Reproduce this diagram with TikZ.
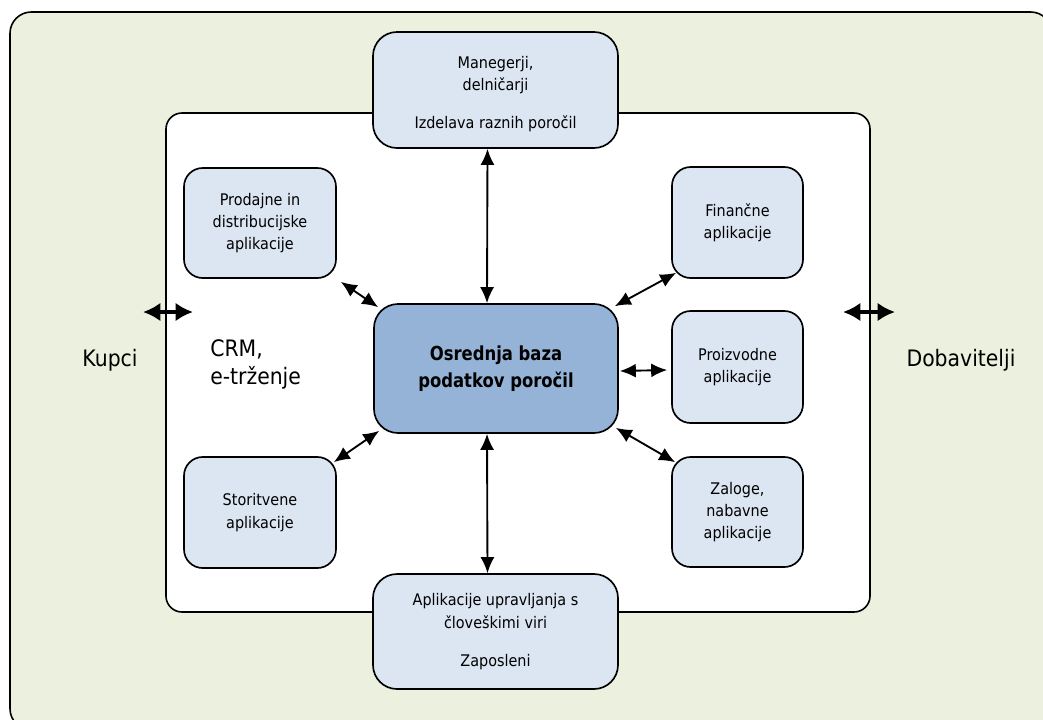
\documentclass[tikz,border=0pt]{standalone}
\usepackage{fontspec}
\setmainfont{DejaVu Sans}[FakeStretch=0.9]
\newfontfamily\cenfont{DejaVu Sans}[FakeStretch=0.85]
\usetikzlibrary{arrows.meta,calc}
\definecolor{outerbg}{HTML}{EBF1DE}
\definecolor{boxfill}{HTML}{DCE6F2}
\definecolor{cenfill}{HTML}{95B3D7}
\begin{document}
\begin{tikzpicture}[x=0.75pt,y=-0.75pt,
  appbox/.style={draw=black,line width=1.25pt,fill=boxfill,rounded corners=14pt,
    align=center,inner sep=0pt,font=\fontsize{12}{16.8}\selectfont},
  bigbox/.style={appbox,rounded corners=18pt},
  cenbox/.style={draw=black,line width=1.25pt,fill=cenfill,rounded corners=18pt,
    align=center,inner sep=0pt,font=\cenfont\fontsize{14.5}{20.5}\selectfont\bfseries},
  arr/.style={{Latex[length=12pt,width=10.5pt]}-{Latex[length=12pt,width=10.5pt]},line width=1.4pt},
  extarr/.style={{Latex[length=13pt,width=14pt]}-{Latex[length=13pt,width=14pt]},line width=2.6pt},
  big/.style={font=\fontsize{17}{21}\selectfont,inner sep=0pt}
]
\useasboundingbox (0,0) rectangle (1043,719);
\fill[white] (0,0) rectangle (1043,719);
\begin{scope}
\clip (0,0) rectangle (1043,719);
\draw[fill=outerbg,line width=1.2pt,rounded corners=16pt] (10,12) rectangle (1052,730);
\end{scope}
\draw[fill=white,line width=1.2pt,rounded corners=12pt] (166,113) rectangle (870,612);

\node[bigbox,minimum width=183.75pt,minimum height=87pt] (mgr) at (495.5,90)
  {\rule{0pt}{15pt}Manegerji,\\delničarji\\[11.7pt]Izdelava raznih poročil};
\node[appbox,minimum width=114pt,minimum height=82.5pt] (prod) at (260,223)
  {Prodajne in\\distribucijske\\aplikacije};
\node[appbox,minimum width=98.25pt,minimum height=83.25pt] (fin) at (737.5,222.5)
  {Finančne\\aplikacije};
\node[appbox,minimum width=98.25pt,minimum height=84pt] (proiz) at (737.5,367)
  {Proizvodne\\aplikacije};
\node[appbox,minimum width=98.25pt,minimum height=82.5pt] (zal) at (737.5,512)
  {Zaloge,\\nabavne\\aplikacije};
\node[appbox,minimum width=114pt,minimum height=83.25pt] (stor) at (260,512.5)
  {Storitvene\\aplikacije};
\node[bigbox,minimum width=183.75pt,minimum height=86.25pt] (hr) at (495.5,631.5)
  {Aplikacije upravljanja s\\človeškimi viri\\[11.7pt]Zaposleni};
\node[cenbox,minimum width=183pt,minimum height=96.75pt] (cen) at (496,368.5)
  {Osrednja baza\\podatkov poročil};

\node[big] (kupci) at (110,360) {Kupci};
\node[big] (dob) at (961,360) {Dobavitelji};
\node[big,anchor=west,align=left] (crm) at (210,364) {CRM,\\e-trženje};

\draw[arr] ([xshift=-6pt]mgr.south) -- ([xshift=-6.75pt]cen.north);
\draw[arr] ([xshift=-6pt]hr.north) -- ([xshift=-6.75pt]cen.south);
\draw[arr] ([shift={(4,3)}]prod.south east) -- ([shift={(5,4)}]cen.north west);
\draw[arr] ([shift={(-4,3)}]cen.north east) -- ([shift={(5,-6)}]fin.south west);
\draw[arr] ([shift={(1,2.5)}]cen.east) -- ([shift={(-4,3)}]proiz.west);
\draw[arr] ([shift={(-3,-6)}]cen.south east) -- ([shift={(4,6)}]zal.north west);
\draw[arr] ([shift={(-3,6)}]stor.north east) -- ([shift={(6,-3)}]cen.south west);

\coordinate (la) at (143,312);
\coordinate (lb) at (193,312);
\coordinate (ra) at (843,312);
\coordinate (rb) at (895,312);
\draw[extarr] (la) -- (lb);
\draw[extarr] (ra) -- (rb);
\end{tikzpicture}
\end{document}
